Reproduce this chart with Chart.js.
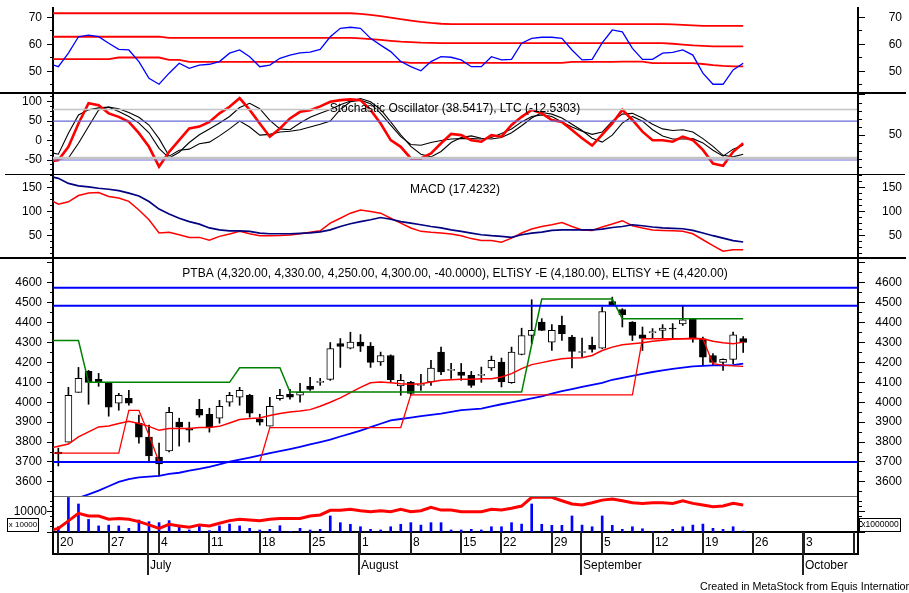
<!DOCTYPE html>
<html lang="en">
<head>
<meta charset="UTF-8">
<title>PTBA daily chart</title>
<script src="https://cdn.jsdelivr.net/npm/chart.js"></script>
<style>
  body { margin: 0; background: #fff; }
  #wrap { position: relative; width: 909px; height: 593px; overflow: hidden; background: #fff; }
  #wrap canvas { position: absolute; left: 0; }
</style>
</head>
<body>
<div id="wrap">
  <canvas id="frame" width="909" height="593" style="top:0"></canvas>
  <canvas id="rsiChart" width="909" height="85" style="top:7px"></canvas>
  <canvas id="stoChart" width="909" height="80" style="top:94px"></canvas>
  <canvas id="macdChart" width="909" height="82" style="top:175px"></canvas>
  <canvas id="priceChart" width="909" height="237" style="top:259px"></canvas>
  <canvas id="volChart" width="909" height="96" style="top:497px"></canvas>
</div>
<script>
// ---- dates (bar index of each week start / month start) ----
const weekTicks = [0, 5, 10, 15, 20, 25, 30, 35, 40, 44, 49, 54, 59, 64, 69, 74, 79];
const weekLabels = ['20', '27', '4', '11', '18', '25', '1', '8', '15', '22', '29', '5', '12', '19', '26', '3', '10'];
const monthTicks = [9, 30, 52, 74];
const monthLabels = ['July', 'August', 'September', 'October'];

// ---- daily candles, bar 0 .. 68 ----
const opens = [3750, 3800, 4050, 4155, 4115, 4100, 3995, 4020, 3895, 3825,
  3725, 3755, 3900, 3870, 3965, 3940, 3920, 4000, 4025, 4035,
  3915, 3880, 4018, 4040, 4035, 4080, 4100, 4115, 4295, 4272,
  4302, 4282, 4202, 4235, 4082, 4100, 4085, 4102, 4252, 4160,
  4152, 4135, 4135, 4172, 4202, 4098, 4240, 4336, 4403, 4302,
  4386, 4327, 4250, 4286, 4272, 4506, 4466, 4403, 4339, 4350,
  4361, 4373, 4394, 4419, 4319, 4235, 4200, 4215, 4320];
const highs = [3770, 4075, 4175, 4160, 4145, 4100, 4045, 4060, 3935, 3885,
  3795, 3975, 3920, 3900, 4015, 3970, 4010, 4050, 4075, 4040,
  3940, 4025, 4065, 4065, 4095, 4125, 4120, 4300, 4320, 4352,
  4340, 4300, 4252, 4238, 4140, 4105, 4140, 4210, 4277, 4195,
  4195, 4155, 4177, 4232, 4222, 4277, 4372, 4515, 4420, 4390,
  4433, 4336, 4322, 4327, 4478, 4528, 4470, 4405, 4378, 4370,
  4390, 4395, 4483, 4420, 4327, 4244, 4218, 4352, 4330];
const lows = [3680, 3800, 4050, 3990, 4080, 3930, 3960, 3985, 3795, 3705,
  3630, 3750, 3780, 3800, 3925, 3850, 3895, 3980, 3985, 3925,
  3885, 3880, 4010, 4015, 4000, 4060, 4085, 4110, 4175, 4268,
  4255, 4175, 4185, 4100, 4035, 4035, 4060, 4085, 4138, 4120,
  4110, 4075, 4100, 4160, 4077, 4095, 4238, 4295, 4360, 4260,
  4310, 4172, 4227, 4252, 4270, 4485, 4378, 4310, 4260, 4320,
  4320, 4320, 4386, 4302, 4185, 4185, 4160, 4194, 4250];
const closes = [3740, 4035, 4120, 4100, 4100, 3975, 4035, 3995, 3825, 3730,
  3690, 3950, 3875, 3860, 3935, 3875, 3980, 4035, 4060, 3945,
  3900, 3980, 4035, 4025, 4050, 4065, 4105, 4270, 4280, 4302,
  4282, 4200, 4235, 4113, 4110, 4045, 4088, 4172, 4152, 4162,
  4135, 4085, 4140, 4210, 4102, 4252, 4335, 4361, 4361, 4361,
  4344, 4255, 4253, 4266, 4456, 4488, 4440, 4336, 4320, 4352,
  4373, 4368, 4414, 4319, 4227, 4200, 4215, 4339, 4300];
const volume = [2600, 17000, 13800, 6200, 3000, 3400, 3000, 1800, 5900, 5100,
  4600, 5600, 2600, 1000, 3400, 700, 3000, 3900, 3000, 1800,
  1000, 1300, 3100, 300, 1800, 1000, 1300, 7900, 4600, 3800,
  2600, 1300, 1000, 2600, 3800, 4600, 3400, 4600, 4600, 1000,
  1000, 1300, 1000, 2600, 2600, 4600, 3900, 13800, 3800, 3300,
  3300, 7900, 3400, 2600, 7900, 3300, 1300, 2600, 1600, 300,
  300, 1300, 2600, 3400, 3900, 1800, 1300, 2600, 500];

// ---- indicators, bar -1 .. 68 (first value is the bar before the first candle) ----
const rsi = [53.0, 51.7, 56.7, 62.8, 63.4, 62.8, 60.4, 58.1, 57.9, 53.6,
  47.4, 45.2, 49.3, 53.0, 51.1, 52.3, 52.6, 53.6, 56.7, 57.9,
  55.4, 51.7, 52.3, 54.8, 56.0, 56.8, 57.1, 58.1, 62.8, 65.9,
  66.3, 65.9, 62.2, 59.7, 57.3, 53.6, 51.7, 50.2, 53.6, 55.4,
  55.2, 54.2, 51.7, 51.7, 55.4, 54.2, 54.4, 60.4, 62.2, 62.6,
  62.6, 62.2, 57.9, 54.2, 54.4, 60.5, 65.3, 64.6, 58.5, 54.4,
  54.4, 56.7, 57.0, 57.9, 56.0, 49.3, 45.2, 45.2, 50.5, 53.0];
const rsiUpper = [71.5, 71.5, 71.5, 71.5, 71.5, 71.5, 71.5, 71.5, 71.5, 71.5,
  71.5, 71.5, 71.5, 71.5, 71.5, 71.5, 71.5, 71.5, 71.5, 71.5,
  71.5, 71.5, 71.5, 71.5, 71.5, 71.5, 71.5, 71.5, 71.5, 71.5,
  71.5, 71.3, 70.9, 70.4, 69.9, 69.3, 68.8, 68.3, 67.9, 67.6,
  67.5, 67.5, 67.5, 67.5, 67.5, 67.5, 67.5, 67.5, 67.5, 67.5,
  67.5, 67.5, 67.5, 67.5, 67.5, 67.5, 67.5, 67.5, 67.5, 67.5,
  67.5, 67.5, 67.4, 67.2, 67.0, 66.8, 66.8, 66.8, 66.8, 66.8];
const rsiMid = [62.8, 62.8, 62.8, 62.8, 62.8, 62.8, 62.8, 62.8, 62.8, 62.8,
  62.8, 62.8, 62.4, 62.4, 62.4, 62.4, 62.4, 62.4, 62.4, 62.4,
  62.4, 62.4, 62.4, 62.4, 62.4, 62.4, 62.4, 62.4, 62.4, 62.4,
  62.4, 62.2, 61.9, 61.6, 61.3, 61.0, 60.8, 60.6, 60.5, 60.4,
  60.4, 60.4, 60.4, 60.4, 60.4, 60.4, 60.4, 60.4, 60.4, 60.4,
  60.4, 60.4, 60.4, 60.4, 60.4, 60.4, 60.4, 60.4, 60.4, 60.4,
  60.4, 60.4, 60.2, 59.9, 59.6, 59.4, 59.2, 59.2, 59.2, 59.2];
const rsiLower = [54.5, 54.5, 54.5, 54.5, 54.5, 54.5, 54.5, 55.1, 55.1, 55.1,
  55.1, 55.1, 54.2, 54.2, 53.5, 53.5, 53.5, 53.5, 53.5, 53.5,
  53.5, 53.5, 53.5, 53.5, 53.5, 53.5, 53.5, 53.5, 53.5, 53.5,
  53.5, 53.5, 53.5, 53.5, 53.5, 53.5, 53.1, 53.1, 53.1, 53.1,
  53.1, 53.1, 53.1, 53.1, 53.1, 53.1, 53.1, 53.1, 53.1, 53.1,
  53.1, 53.1, 53.5, 53.5, 53.5, 53.5, 53.5, 53.6, 53.6, 53.6,
  53.0, 53.0, 53.0, 53.0, 53.0, 52.7, 52.3, 52.0, 51.8, 51.8];

const stoK = [-55, -50, -16, 44, 96, 91, 70, 61, 48, 19,
  -16, -67, -29, 1, 31, 36, 48, 70, 87, 109,
  79, 44, 10, 31, 57, 74, 78, 88, 100, 104,
  106, 104, 79, 44, 1, -16, -46, -46, -33, -7,
  17, 14, 1, -3, 14, 10, 40, 61, 79, 70,
  53, 48, 27, 6, -13, 15, 44, 79, 53, 23,
  1, 1, -3, 10, 1, -24, -59, -65, -29, -7];
const stoD = [-30, -35, 19, 66, 79, 84, 86, 75, 62, 45,
  20, -20, -45, -30, -5, 15, 30, 45, 62, 85,
  96, 82, 52, 30, 28, 45, 60, 70, 80, 92,
  102, 108, 100, 80, 48, 15, -15, -35, -42, -28,
  -5, 8, 12, 6, 4, 8, 20, 38, 58, 72,
  68, 58, 42, 26, 6, -4, 14, 45, 62, 50,
  28, 12, 4, 4, 5, -6, -25, -40, -22, -12];
const stoSlow = [-40, -48, -45, -7, 36, 79, 86, 82, 72, 60,
  40, 5, -40, -25, -22, -8, -4, 12, 30, 50,
  35, 14, 16, 22, 24, 28, 35, 42, 50, 80,
  100, 104, 95, 70, 40, 10, -10, -12, -5, 0,
  4, 5, 5, 4, 8, 18, 30, 48, 62, 66,
  62, 48, 35, 24, 16, 22, 50, 68, 70, 58,
  42, 30, 26, 28, 22, 5, -15, -38, -42, -35];
const stoGray = [80, -45];
const stoBlue = [50, -50];

const macd = [126, 115, 120, 133, 138, 139, 131, 128, 121, 103,
  83, 55.5, 57, 52, 46.5, 46.5, 40.5, 48.6, 53.5, 59,
  54, 50, 50, 50.5, 51.5, 54, 57, 60, 76, 86,
  96.5, 103, 100, 96.5, 86, 76, 66, 59, 57, 55.5,
  53.5, 50, 44, 40, 40, 36.5, 45, 55.5, 63.7, 69,
  72.6, 77, 69, 62, 61, 68, 74, 81, 70.5, 66,
  62, 61, 60, 59, 54, 41.6, 29.4, 18, 21, 21];
const macdSignal = [173, 168.5, 158, 153, 151, 148, 146, 143, 138, 132,
  120.5, 105, 95, 86, 79, 74, 66, 62, 60, 60,
  59, 55.5, 54, 54, 54, 55, 56, 58, 62, 69,
  74.6, 79, 83, 87.6, 84, 79, 76, 72.6, 69, 66,
  62, 59, 55.5, 52, 50, 48.6, 46.5, 52, 55.5, 57.5,
  61, 62, 62, 62, 62, 63.7, 67, 69, 72.6, 70.5,
  68, 66, 65, 64.4, 61, 55.5, 50, 45, 40, 37];

const maFast = [3767, 3779, 3790, 3826, 3851, 3876, 3881, 3893, 3904, 3893,
  3879, 3859, 3868, 3868, 3868, 3873, 3873, 3879, 3896, 3913,
  3918, 3921, 3934, 3943, 3951, 3956, 3963, 3980, 4000, 4022,
  4048, 4075, 4098, 4102, 4098, 4093, 4090, 4093, 4102, 4110,
  4113, 4115, 4115, 4118, 4118, 4127, 4144, 4169, 4189, 4199,
  4210, 4219, 4222, 4224, 4235, 4260, 4277, 4289, 4294, 4299,
  4306, 4311, 4316, 4319, 4322, 4319, 4306, 4299, 4294, 4302];
const maSlow = [3440, 3465, 3490, 3520, 3537, 3556, 3578, 3600, 3614, 3623,
  3627, 3630, 3640, 3646, 3657, 3665, 3675, 3688, 3702, 3712,
  3722, 3733, 3745, 3755, 3765, 3776, 3788, 3800, 3812, 3828,
  3842, 3858, 3875, 3892, 3909, 3916, 3923, 3930, 3937, 3943,
  3952, 3960, 3964, 3968, 3979, 3990, 4000, 4010, 4020, 4030,
  4043, 4056, 4066, 4077, 4087, 4097, 4113, 4123, 4133, 4143,
  4152, 4160, 4168, 4174, 4180, 4183, 4185, 4185, 4187, 4194];
const stopPlus = [4310, 4310, 4310, 4310, 4100, 4100, 4100, 4100, 4100, 4100,
  4100, 4100, 4100, 4100, 4100, 4100, 4100, 4100, 4100, 4173,
  4173, 4173, 4173, 4173, 4051, 4051, 4051, 4051, 4051, 4051,
  4051, 4051, 4051, 4051, 4051, 4051, 4051, 4051, 4051, 4051,
  4051, 4051, 4051, 4051, 4051, 4051, 4051, 4051, 4290, 4518,
  4518, 4518, 4518, 4518, 4518, 4518, 4518, 4420, 4420, 4420,
  4420, 4420, 4420, 4420, 4420, 4420, 4420, 4420, 4420, 4420];
const stopMinus = [3745, 3745, 3745, 3745, 3745, 3745, 3745, 3745, 3959, 3959,
  3835, 3700, 3700, 3700, 3700, 3700, 3700, 3700, 3700, 3700,
  3700, 3700, 3873, 3873, 3873, 3873, 3873, 3873, 3873, 3873,
  3873, 3873, 3873, 3873, 3873, 3873, 4037, 4037, 4037, 4037,
  4037, 4037, 4037, 4037, 4037, 4037, 4037, 4037, 4037, 4037,
  4037, 4037, 4037, 4037, 4037, 4037, 4037, 4037, 4037, 4319,
  4319, 4319, 4319, 4319, 4319, 4319, 4194, 4186, 4183, 4180];
const priceLevels = [4575, 4485, 3700];

const volAvg = [500, 1800, 5500, 9200, 7900, 7900, 6300, 6700, 6300, 5100,
  3500, 1800, 3800, 3000, 2300, 3500, 3000, 4300, 5600, 6300,
  5900, 5600, 6300, 6700, 6700, 6700, 7900, 8400, 10700, 10700,
  11200, 10500, 10000, 10500, 10000, 11200, 10000, 10500, 12200, 10800,
  10800, 10000, 10000, 10000, 11200, 10800, 11700, 12800, 17100, 17100,
  17100, 15400, 13800, 13300, 14400, 15700, 16200, 15400, 14400, 14100,
  14400, 14400, 14100, 15400, 14100, 13300, 12500, 12800, 14100, 13300];

// ---- layout helpers ----
const FONT = '"Liberation Sans", Arial, sans-serif';
const X_MIN = -0.53, X_MAX = 79.3;
Chart.defaults.font.family = FONT;
Chart.defaults.font.size = 12;
Chart.defaults.color = '#000';

const isStep = (v, m) => Math.abs(v / m - Math.round(v / m)) < 1e-6;
function spec(min, max, step, majorStep, labelTest) {
  const major = v => isStep(v, majorStep);
  return { min, max, step, major,
    label: v => (major(v) && (!labelTest || labelTest(v))) ? String(v) : '' };
}
const rsiAxis = spec(42.33, 73.81, 5, 10);
const stoAxis = spec(-86.0, 119.8, 12.5, 50);
const stoRight = spec(1.25, 101.25, 10, 50, v => v === 50);
const macdAxis = spec(6.0, 175.4, 12.5, 50);
const priceAxis = spec(3529.2, 4719.5, 50, 100, v => v <= 4600);
const volAxis = spec(0, 17241, 2500, 10000, v => v === 10000);
const volRight = spec(0, 17241, 2500, 10000, () => false);

const pts = (vals, first) => vals.map((v, i) => ({ x: i + first, y: v }));
const line = (data, color, width, order) => ({
  type: 'line', data, borderColor: color, borderWidth: width,
  pointRadius: 0, tension: 0, fill: false, order
});
const level = (v, color, width) => line([{ x: X_MIN, y: v }, { x: X_MAX, y: v }], color, width, 0);

function axis(pos, s, pad) {
  return {
    position: pos, min: s.min, max: s.max,
    grid: { display: false, drawTicks: false }, border: { display: false },
    afterBuildTicks: sc => {
      const t = [];
      for (let v = Math.ceil(s.min / s.step) * s.step; v <= s.max; v += s.step) t.push({ value: Math.round(v * 1000) / 1000 });
      sc.ticks = t;
    },
    // fixed axis widths, and no label overhang eating into the panel height
    afterFit: sc => {
      sc.width = pos === 'left' ? 53 : 45;
      sc.paddingTop = 0; sc.paddingBottom = 0;
    },
    ticks: { autoSkip: false, padding: pos === 'left' ? (pad || 11) : 0,
      crossAlign: pos === 'left' ? 'near' : 'far', callback: v => s.label(v) }
  };
}

function tickMarks(left, right) {
  return {
    id: 'tickMarks',
    afterDraw(chart) {
      const ctx = chart.ctx;
      ctx.save();
      ctx.fillStyle = '#000';
      [['y', left], ['yr', right]].forEach(([id, s]) => {
        const sc = chart.scales[id];
        sc.ticks.forEach(t => {
          const row = Math.round(sc.getPixelForValue(t.value) - 0.5);
          const big = s.major(t.value);
          if (sc.position === 'left') ctx.fillRect(sc.right - (big ? 6 : 3), row, big ? 6 : 3, 1);
          else ctx.fillRect(sc.left, row, big ? 8 : 5, 1);
        });
      });
      ctx.restore();
    }
  };
}

const caption = (text, y) => ({
  id: 'caption',
  afterDatasetsDraw(chart) {
    const c = chart.ctx, a = chart.chartArea;
    c.save();
    c.font = '12px ' + FONT; c.fillStyle = '#000';
    c.textAlign = 'center'; c.textBaseline = 'middle';
    c.fillText(text, (a.left + a.right) / 2, y);
    c.restore();
  }
});

function panel(id, datasets, left, right, extra, bottomPad, leftPad) {
  return new Chart(document.getElementById(id), {
    type: 'line',
    data: { datasets },
    options: {
      responsive: false, animation: false, events: [],
      layout: { autoPadding: false, padding: { left: 0, right: 7, top: 0, bottom: bottomPad || 0 } },
      plugins: { legend: { display: false }, tooltip: { enabled: false } },
      scales: {
        x: { type: 'linear', min: X_MIN, max: X_MAX, display: false, offset: false },
        y: axis('left', left, leftPad),
        yr: axis('right', right)
      }
    },
    plugins: [tickMarks(left, right)].concat(extra || [])
  });
}

// ---- frame: panel separators and axis lines ----
const fr = document.getElementById('frame').getContext('2d');
fr.fillStyle = '#000';
fr.fillRect(52, 7, 2, 548);
fr.fillRect(857, 7, 2, 548);
fr.fillRect(0, 92, 906, 2);
fr.fillRect(5, 174, 900, 1);
fr.fillRect(0, 257, 906, 2);
fr.fillRect(52, 531, 807, 2);
fr.fillRect(52, 553, 807, 2);
fr.fillStyle = '#6e6e6e';
fr.fillRect(54, 496, 803, 1);

// ---- RSI ----
panel('rsiChart', [
  line(pts(rsiUpper, -1), '#ff0000', 1.8, 2),
  line(pts(rsiMid, -1), '#ff0000', 1.8, 2),
  line(pts(rsiLower, -1), '#ff0000', 1.8, 2),
  line(pts(rsi, -1), '#0000ff', 1.3, 1)
], rsiAxis, rsiAxis);

// ---- Stochastic ----
panel('stoChart', [
  level(stoGray[0], '#c4c4c4', 1.5),
  level(stoGray[1], '#c4c4c4', 2.5),
  level(stoBlue[0], '#6a6ad8', 1.2),
  level(stoBlue[1], '#6a6ad8', 1.2),
  line(pts(stoSlow, -1), '#000', 1.1, 3),
  line(pts(stoD, -1), '#000', 1.1, 3),
  line(pts(stoK, -1), '#ff0000', 2.6, 2)
], stoAxis, stoRight, [caption('Stochastic Oscillator (38.5417), LTC (-12.5303)', 14.3)]);

// ---- MACD ----
panel('macdChart', [
  line(pts(macd, -1), '#ff0000', 1.5, 2),
  line(pts(macdSignal, -1), '#000080', 1.7, 1)
], macdAxis, macdAxis, [caption('MACD (17.4232)', 15)]);

// ---- Price ----
panel('priceChart', [
  { type: 'bar', data: lows.map((l, i) => ({ x: i, y: [l, highs[i]] })),
    backgroundColor: '#000', borderWidth: 0, barThickness: 1, grouped: false, order: 6 },
  { type: 'bar', data: opens.map((o, i) => ({ x: i, y: [o, closes[i]] })),
    backgroundColor: c => (closes[c.dataIndex] >= opens[c.dataIndex] ? '#fff' : '#000'),
    borderColor: '#000', borderWidth: 1, borderSkipped: false, barThickness: 7,
    minBarLength: 1, grouped: false, order: 5 },
  line(pts(maSlow, -1), '#0000ff', 1.8, 3),
  line(pts(maFast, -1), '#ff0000', 1.5, 3),
  line(pts(stopPlus, -1), '#008000', 1.5, 2),
  line(pts(stopMinus, -1), '#ff0000', 1.3, 2),
  level(priceLevels[0], '#0000ff', 2),
  level(priceLevels[1], '#0000ff', 2),
  level(priceLevels[2], '#0000ff', 2)
], priceAxis, priceAxis, [caption('PTBA (4,320.00, 4,330.00, 4,250.00, 4,300.00, -40.0000), ELTiSY -E (4,180.00), ELTiSY +E (4,420.00)', 14.3)]);

// ---- Volume + date axis ----
const volumeExtras = {
  id: 'volumeExtras',
  afterDraw(chart) {
    const ctx = chart.ctx, a = chart.chartArea, xs = chart.scales.x;
    ctx.save();
    ctx.strokeStyle = '#000'; ctx.lineWidth = 1;
    ctx.strokeRect(7.5, a.bottom - 13.5, 31, 13);
    ctx.strokeRect(859.5, a.bottom - 13.5, 41, 13);
    ctx.fillStyle = '#000'; ctx.font = '8px ' + FONT;
    ctx.textAlign = 'center'; ctx.textBaseline = 'middle';
    ctx.fillText('x 10000', 23, a.bottom - 7);
    ctx.font = '8.5px ' + FONT;
    ctx.fillText('x1000000', 880, a.bottom - 7);
    ctx.font = '10.75px ' + FONT; ctx.textAlign = 'left';
    ctx.fillText('Created in MetaStock from Equis International', 700, 90);
    ctx.beginPath(); ctx.rect(a.left, a.bottom, a.right - a.left, chart.height - a.bottom); ctx.clip();
    ctx.font = '12px ' + FONT;
    weekTicks.forEach((t, i) => {
      const px = Math.round(xs.getPixelForValue(t));
      ctx.fillStyle = '#222'; ctx.fillRect(px - 1, a.bottom, 2, 22);
      ctx.fillStyle = '#000'; ctx.fillText(weekLabels[i], px + 2, a.bottom + 11);
    });
    monthTicks.forEach((t, i) => {
      const px = Math.round(xs.getPixelForValue(t)) - 1;
      ctx.fillStyle = '#222'; ctx.fillRect(px - 1, a.bottom, 2, 43);
      ctx.fillStyle = '#000'; ctx.fillText(monthLabels[i], px + 2, a.bottom + 34);
    });
    ctx.restore();
  }
};
panel('volChart', [
  { type: 'bar', data: volume.map((v, i) => ({ x: i, y: v })),
    backgroundColor: '#0000ff', barThickness: 2, grouped: false, order: 2 },
  line(pts(volAvg, -1), '#ff0000', 3, 1)
], volAxis, volRight, [volumeExtras], 61, 6);
</script>
</body>
</html>
